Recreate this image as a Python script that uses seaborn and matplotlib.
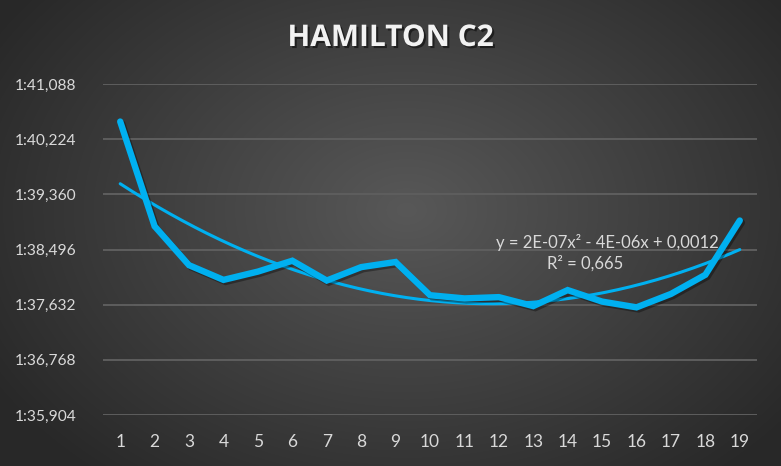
import numpy as np
import pandas as pd
import matplotlib
matplotlib.use("Agg")
import matplotlib.pyplot as plt
import matplotlib.patheffects as pe
import seaborn as sns

# ---- data ----
laps = list(range(1, 20))
lap_seconds = [40.50, 38.86, 38.25, 38.02, 38.15, 38.32, 38.01, 38.22, 38.30, 37.78,
               37.73, 37.75, 37.61, 37.86, 37.68, 37.59, 37.80, 38.10, 38.95]
y_ticks = [35.904, 36.768, 37.632, 38.496, 39.360, 40.224, 41.088]
y_tick_labels = ["1:35,904", "1:36,768", "1:37,632", "1:38,496", "1:39,360", "1:40,224", "1:41,088"]
title = "HAMILTON C2"
eq_text = "y = 2E-07x² - 4E-06x + 0,0012"
r2_text = "R² = 0,665"

df = pd.DataFrame({"lap": laps, "sec": lap_seconds})

sns.set_theme(style="dark")
plt.rcParams["font.family"] = ["Lato", "DejaVu Sans"]

W, H = 781, 466
fig = plt.figure(figsize=(W / 100, H / 100), dpi=100)

# radial gradient background
bg = fig.add_axes([0, 0, 1, 1], zorder=-10)
yy, xx = np.mgrid[0:H, 0:W]
cx, cy = W * 0.52, H * 0.45
r = np.sqrt(((xx - cx) / (W * 0.62)) ** 2 + ((yy - cy) / (H * 0.75)) ** 2)
r = np.clip(r, 0, 1)
c_in, c_out = np.array([0x58, 0x58, 0x58]) / 255, np.array([0x28, 0x28, 0x28]) / 255
img = c_in[None, None, :] * (1 - r[..., None]) + c_out[None, None, :] * r[..., None]
bg.imshow(img, aspect="auto", extent=[0, 1, 0, 1])
bg.set_axis_off()

ax = fig.add_axes([103 / W, 1 - 415 / H, (757 - 103) / W, (415 - 84) / H])
ax.set_facecolor("none")
ax.patch.set_alpha(0)

# trendline (2nd order polynomial fit)
coef = np.polyfit(df["lap"], df["sec"], 2)
xs = np.linspace(1, 19, 200)
trend = pd.DataFrame({"lap": xs, "sec": np.polyval(coef, xs)})
sns.lineplot(data=trend, x="lap", y="sec", ax=ax, color="#00b0f0", linewidth=2.2, zorder=3)

sns.lineplot(data=df, x="lap", y="sec", ax=ax, color="#00b0f0", linewidth=4.6, zorder=4,
             solid_joinstyle="miter", solid_capstyle="round",
             path_effects=[pe.SimpleLineShadow(offset=(1.5, -1.5), alpha=0.35, shadow_color="black"),
                           pe.Normal()])

ax.set_xlim(0.5, 19.5)
ax.set_ylim(35.904, 41.088)
ax.set_xticks(laps)
ax.set_xticklabels([str(v) for v in laps])
ax.set_yticks(y_ticks)
ax.set_yticklabels(y_tick_labels)
ax.set_xlabel("")
ax.set_ylabel("")
ax.grid(axis="y", color="#5e5e5e", linewidth=1.4)
ax.grid(axis="x", visible=False)
for s in ax.spines.values():
    s.set_visible(False)
ax.tick_params(axis="both", length=0, colors="#d9d9d9")
ax.tick_params(axis="y", pad=19, labelsize=11.2)
ax.tick_params(axis="x", pad=14, labelsize=12.5)
ax.set_axisbelow(True)

ax.text(18.38, 38.6, eq_text, color="#d9d9d9", fontsize=12, ha="right", va="center", zorder=5)
ax.text(14.5, 38.28, r2_text, color="#d9d9d9", fontsize=12, ha="center", va="center", zorder=5)

fig.text(0.5, 1 - 38 / H, title, color="#f2f2f2", fontsize=21.5, fontweight="bold",
         family=["Open Sans", "DejaVu Sans"], ha="center", va="center",
         path_effects=[pe.withSimplePatchShadow(offset=(1.5, -1.5), alpha=0.5, shadow_rgbFace="black")])

fig.savefig("out.png", dpi=100)
